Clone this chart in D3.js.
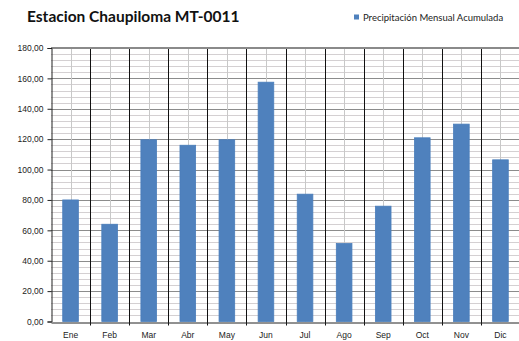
<!DOCTYPE html>
<html>
<head>
<meta charset="utf-8">
<script src="https://cdn.jsdelivr.net/npm/d3@7"></script>
<style>
  html, body { margin: 0; padding: 0; background: #fff; }
  svg { display: block; font-family: Lato, "Open Sans", sans-serif; }
</style>
</head>
<body>
<svg id="chart" width="519" height="341"></svg>
<script>
// Monthly accumulated precipitation, station Chaupiloma MT-0011
const months = ["Ene", "Feb", "Mar", "Abr", "May", "Jun", "Jul", "Ago", "Sep", "Oct", "Nov", "Dic"];
const precipitation = [80, 64, 119.6, 116, 119.6, 157.5, 83.8, 51.3, 75.9, 120.9, 129.9, 106.4];
const yTicks = [0, 20, 40, 60, 80, 100, 120, 140, 160, 180];
const titleText = "Estacion Chaupiloma MT-0011";
const legendText = "Precipitación Mensual Acumulada";

const svg = d3.select("#chart");
const plot = { left: 51, right: 520, top: 48, bottom: 321.5 };

const x = d3.scaleBand().domain(months).range([plot.left, plot.right]).padding(0);
const y = d3.scaleLinear().domain([0, 180]).range([plot.bottom, plot.top]);

const fmt = v => d3.format(".2f")(v).replace(".", ",");

// minor horizontal grid, every 4 units
const minor = d3.range(0, 181, 4).filter(v => v % 20 !== 0);
svg.append("g").selectAll("line").data(minor).join("line")
  .attr("x1", plot.left).attr("x2", plot.right)
  .attr("y1", d => Math.round(y(d)) + 0.5).attr("y2", d => Math.round(y(d)) + 0.5)
  .attr("stroke", "#d4d0d2").attr("stroke-width", 1);

// major horizontal grid
svg.append("g").selectAll("line").data(yTicks.filter(v => v > 0 && v < 180)).join("line")
  .attr("x1", plot.left).attr("x2", plot.right)
  .attr("y1", d => Math.round(y(d)) + 0.5).attr("y2", d => Math.round(y(d)) + 0.5)
  .attr("stroke", "#8c8c8c").attr("stroke-width", 1);

// light vertical lines through category centres
svg.append("g").selectAll("line").data(months).join("line")
  .attr("x1", d => Math.round(x(d) + x.bandwidth() / 2) + 0.5)
  .attr("x2", d => Math.round(x(d) + x.bandwidth() / 2) + 0.5)
  .attr("y1", plot.top).attr("y2", plot.bottom)
  .attr("stroke", "#c8c8c8").attr("stroke-width", 1);

// dark vertical lines at category boundaries, extending into tick marks
svg.append("g").selectAll("line").data(months.slice(1)).join("line")
  .attr("x1", d => Math.round(x(d)) + 0.5).attr("x2", d => Math.round(x(d)) + 0.5)
  .attr("y1", plot.top).attr("y2", plot.bottom + 4)
  .attr("stroke", "#111").attr("stroke-width", 1);

// top border
svg.append("line")
  .attr("x1", plot.left).attr("x2", plot.right)
  .attr("y1", plot.top).attr("y2", plot.top)
  .attr("stroke", "#8a8a8a").attr("stroke-width", 2);

// bars
const barW = x.bandwidth() * 0.4;
svg.append("g").selectAll("rect").data(precipitation).join("rect")
  .attr("x", (d, i) => x(months[i]) + (x.bandwidth() - barW) / 2)
  .attr("width", barW)
  .attr("y", d => y(d))
  .attr("height", d => y(0) - y(d))
  .attr("fill", "#4f81bd")
  .attr("stroke", "#4a7ebb").attr("stroke-width", 0.8);

// y axis
const yAxis = d3.axisLeft(y).tickValues(yTicks).tickFormat(fmt).tickSize(4).tickPadding(4);
const ya = svg.append("g").attr("transform", `translate(${plot.left + 0.5},0)`).call(yAxis);
ya.select(".domain").attr("stroke", "#222");
ya.selectAll(".tick line").attr("stroke", "#222");
ya.selectAll(".tick text").attr("font-size", 8.5).attr("fill", "#222");

// x axis
const xAxis = d3.axisBottom(x).tickSize(0).tickPadding(9);
const xa = svg.append("g").attr("transform", `translate(0,${Math.round(plot.bottom) + 0.5})`).call(xAxis);
xa.select(".domain").attr("stroke", "#222");
xa.selectAll(".tick text").attr("font-size", 8.5).attr("fill", "#222");

// title
svg.append("text")
  .attr("x", 27).attr("y", 22)
  .attr("font-size", 15.5).attr("font-weight", "bold").attr("fill", "#111")
  .text(titleText);

// legend
svg.append("rect").attr("x", 354).attr("y", 14.5).attr("width", 5).attr("height", 5).attr("fill", "#4f81bd");
svg.append("text")
  .attr("x", 363).attr("y", 20.5)
  .attr("font-size", 9.5).attr("fill", "#222")
  .text(legendText);
</script>
</body>
</html>
